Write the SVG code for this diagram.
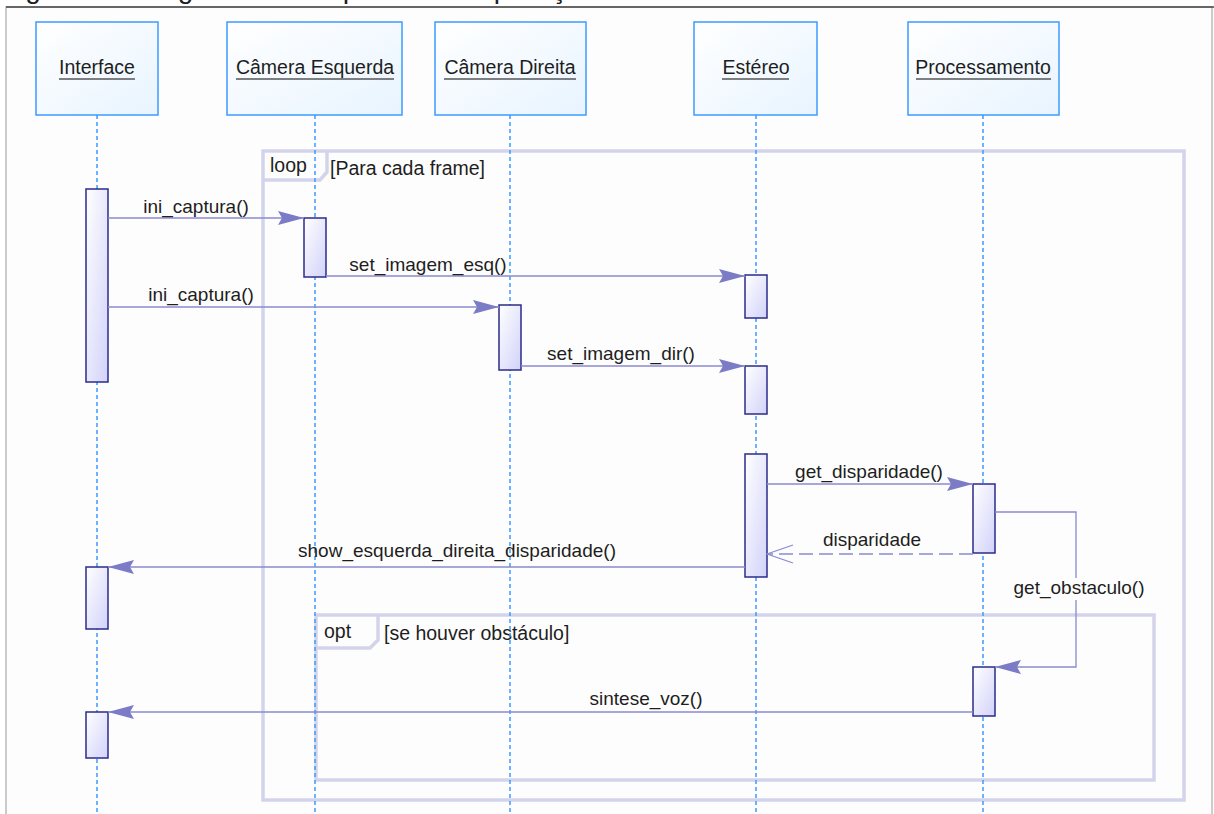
<svg xmlns="http://www.w3.org/2000/svg" width="1214" height="814" viewBox="0 0 1214 814">
  <defs>
    <linearGradient id="headFill" x1="0" y1="0" x2="1" y2="1">
      <stop offset="0" stop-color="#ffffff"/>
      <stop offset="1" stop-color="#e8f4ff"/>
    </linearGradient>
    <linearGradient id="actFill" x1="0" y1="0" x2="1" y2="1">
      <stop offset="0" stop-color="#ffffff"/>
      <stop offset="1" stop-color="#d2d2fa"/>
    </linearGradient>
    <marker id="solid" viewBox="0 0 26 14" refX="26" refY="7" markerWidth="26" markerHeight="14" markerUnits="userSpaceOnUse" orient="auto">
      <path d="M0,0 L26,7 L0,14 L4,7 Z" fill="#7c7cc6"/>
    </marker>
    <marker id="open" viewBox="0 0 28 20" refX="27" refY="10" markerWidth="28" markerHeight="20" markerUnits="userSpaceOnUse" orient="auto">
      <path d="M1,1 L27,10 L1,19" fill="none" stroke="#8a8ad0" stroke-width="1.3"/>
    </marker>
  </defs>
  <style>
    text { font-family: "Liberation Sans", Arial, sans-serif; fill: #1e1e1e; }
    .lbl { font-size: 19px; text-anchor: middle; }
    .head { fill: url(#headFill); stroke: #3d9bff; stroke-width: 1.5; }
    .headtxt { font-size: 19.5px; text-anchor: middle; }
    .uline { stroke: #555; stroke-width: 1.5; }
    .life { stroke: #3d9bff; stroke-width: 1.5; stroke-dasharray: 4 3; fill: none; }
    .act { fill: url(#actFill); stroke: #2b2b8a; stroke-width: 1.5; }
    .frame { fill: none; stroke: #d3d3ec; stroke-width: 3.5; }
    .msg { stroke: #8a8ad0; stroke-width: 1.3; fill: none; }
    .ret { stroke: #8a8ad0; stroke-width: 1.3; fill: none; stroke-dasharray: 14 6; }
    .ftxt { font-size: 19.5px; }
  </style>

  <!-- page caption, running off the top edge -->
  <text x="2" y="-2" style="font-size:28px">Figura 3 – Diagrama de sequência da aplicação</text>

  <!-- diagram canvas -->
  <rect x="6" y="7" width="1206" height="820" fill="#fdfdfd" stroke="#bbbbbb" stroke-width="1.5"/>
  <line x1="6" y1="7" x2="1214" y2="7" stroke="#444" stroke-width="1.5"/>

  <!-- combined fragments -->
  <g id="frame-loop">
    <rect class="frame" x="263" y="151" width="921" height="649"/>
    <path class="frame" d="M263,180 L320,180 L327,172 L327,151"/>
    <text class="ftxt" x="270" y="172">loop</text>
    <text class="ftxt" x="330" y="175">[Para cada frame]</text>
  </g>
  <g id="frame-opt">
    <rect class="frame" x="316" y="615" width="838" height="165"/>
    <path class="frame" d="M316,648 L370,648 L378,640 L378,615"/>
    <text class="ftxt" x="324" y="638">opt</text>
    <text class="ftxt" x="384" y="640">[se houver obstáculo]</text>
  </g>

  <!-- lifelines -->
  <g id="interface">
    <line class="life" x1="97" y1="115" x2="97" y2="814"/>
    <rect class="head" x="36" y="22" width="122" height="93"/>
    <text class="headtxt" x="97" y="74">Interface</text>
    <line class="uline" x1="59" y1="79" x2="135" y2="79"/>
  </g>
  <g id="camera-esquerda">
    <line class="life" x1="315" y1="115" x2="315" y2="814"/>
    <rect class="head" x="227" y="22" width="175" height="93"/>
    <text class="headtxt" x="315" y="74">Câmera Esquerda</text>
    <line class="uline" x1="236" y1="79" x2="394" y2="79"/>
  </g>
  <g id="camera-direita">
    <line class="life" x1="510" y1="115" x2="510" y2="814"/>
    <rect class="head" x="435" y="22" width="151" height="93"/>
    <text class="headtxt" x="510" y="74">Câmera Direita</text>
    <line class="uline" x1="444" y1="79" x2="576" y2="79"/>
  </g>
  <g id="estereo">
    <line class="life" x1="756" y1="115" x2="756" y2="814"/>
    <rect class="head" x="694" y="22" width="123" height="93"/>
    <text class="headtxt" x="756" y="74">Estéreo</text>
    <line class="uline" x1="722" y1="79" x2="789" y2="79"/>
  </g>
  <g id="processamento">
    <line class="life" x1="983" y1="115" x2="983" y2="814"/>
    <rect class="head" x="908" y="22" width="151" height="93"/>
    <text class="headtxt" x="983" y="74">Processamento</text>
    <line class="uline" x1="916" y1="79" x2="1051" y2="79"/>
  </g>

  <!-- activations -->
  <g id="activations">
    <rect class="act" x="86" y="189" width="22" height="193"/>
    <rect class="act" x="304" y="218" width="22" height="59"/>
    <rect class="act" x="499" y="305" width="22" height="65"/>
    <rect class="act" x="745" y="275" width="22" height="43"/>
    <rect class="act" x="745" y="366" width="22" height="48"/>
    <rect class="act" x="745" y="454" width="22" height="123"/>
    <rect class="act" x="973" y="484" width="22" height="69"/>
    <rect class="act" x="86" y="567" width="22" height="62"/>
    <rect class="act" x="973" y="667" width="22" height="49"/>
    <rect class="act" x="86" y="712" width="22" height="46"/>
  </g>

  <!-- messages -->
  <g id="connectors">
    <line class="msg" x1="108" y1="218" x2="304" y2="218" marker-end="url(#solid)"/>
    <text class="lbl" x="196" y="213">ini_captura()</text>

    <line class="msg" x1="326" y1="276" x2="745" y2="276" marker-end="url(#solid)"/>
    <text class="lbl" x="428" y="271">set_imagem_esq()</text>

    <line class="msg" x1="108" y1="307" x2="499" y2="307" marker-end="url(#solid)"/>
    <text class="lbl" x="201" y="301">ini_captura()</text>

    <line class="msg" x1="521" y1="366" x2="745" y2="366" marker-end="url(#solid)"/>
    <text class="lbl" x="621" y="360">set_imagem_dir()</text>

    <line class="msg" x1="767" y1="484" x2="973" y2="484" marker-end="url(#solid)"/>
    <text class="lbl" x="869" y="478">get_disparidade()</text>

    <line class="ret" x1="973" y1="554" x2="767" y2="554" marker-end="url(#open)"/>
    <text class="lbl" x="872" y="546">disparidade</text>

    <line class="msg" x1="745" y1="567" x2="108" y2="567" marker-end="url(#solid)"/>
    <text class="lbl" x="457" y="557">show_esquerda_direita_disparidade()</text>

    <path class="msg" d="M995,512 L1076,512 L1076,667 L995,667" marker-end="url(#solid)"/>
    <rect x="1010" y="578" width="138" height="22" fill="#fdfdfd"/>
    <text class="lbl" x="1079" y="594">get_obstaculo()</text>

    <line class="msg" x1="973" y1="712" x2="108" y2="712" marker-end="url(#solid)"/>
    <text class="lbl" x="646" y="705">sintese_voz()</text>
  </g>
</svg>
